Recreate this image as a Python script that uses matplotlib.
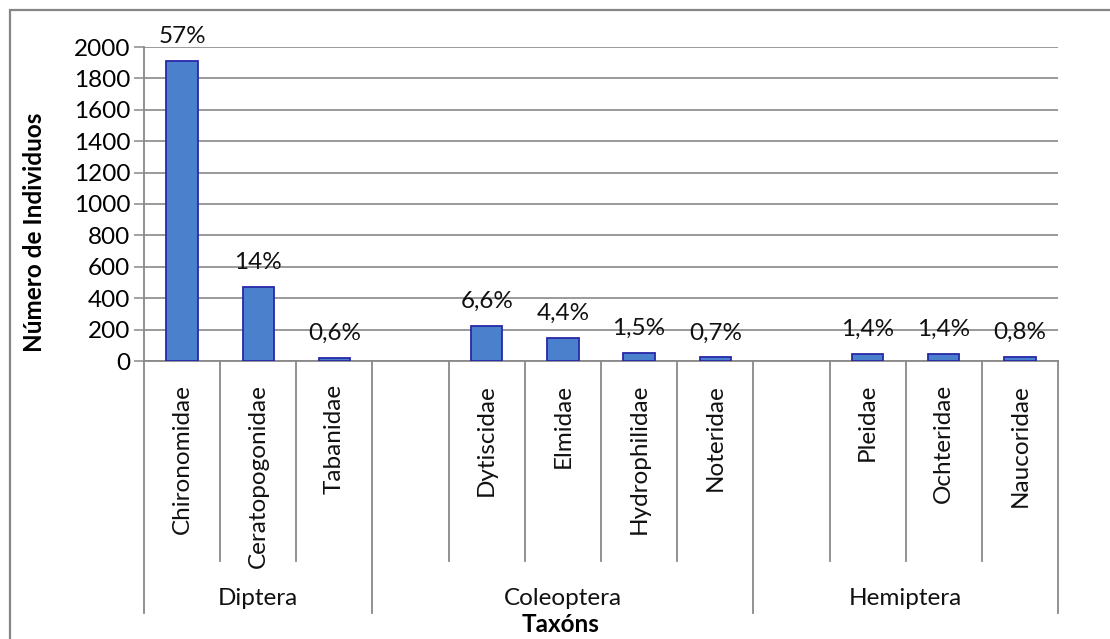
import matplotlib.pyplot as plt
from matplotlib.patches import Rectangle

# taxa per slot; empty strings are the gaps Excel leaves between orders
familias = ['Chironomidae', 'Ceratopogonidae', 'Tabanidae', '',
            'Dytiscidae', 'Elmidae', 'Hydrophilidae', 'Noteridae', '',
            'Pleidae', 'Ochteridae', 'Naucoridae']
individuos = [1910, 472, 21, 0, 222, 148, 50, 23, 0, 47, 47, 27]
porcentajes = ['57%', '14%', '0,6%', '', '6,6%', '4,4%', '1,5%', '0,7%', '',
               '1,4%', '1,4%', '0,8%']
ordenes = ['Diptera', 'Coleoptera', 'Hemiptera']
slots_por_orden = [3, 5, 4]

plt.rcParams['font.family'] = ['Lato', 'DejaVu Sans']
W, H = 1110, 639
fig = plt.figure(figsize=(W / 100, H / 100), dpi=100)
ax = fig.add_axes([144 / W, 1 - 361 / H, (1058 - 144) / W, (361 - 47) / H])

grid_c = '#898989'
fill_c = '#4a80cc'
edge_c = '#2828a8'
fs = 17.5

n = len(familias)
xs = [i for i in range(n) if familias[i]]
ax.bar(xs, [individuos[i] for i in xs], width=0.41, color=fill_c,
       edgecolor=edge_c, linewidth=1.3, zorder=3)
for i in xs:
    ax.annotate(porcentajes[i], (i, individuos[i]), xytext=(0, 10),
                textcoords='offset points', ha='center', va='bottom',
                fontsize=fs, color='#111111', zorder=4)

ax.set_xlim(-0.5, n - 0.5)
ax.set_ylim(0, 2000)
ax.set_yticks(range(0, 2001, 200))
ax.tick_params(axis='y', labelsize=fs, length=7, width=1.1, color=grid_c,
               direction='out', pad=3)
ax.set_xticks([])
ax.yaxis.grid(True, color=grid_c, linewidth=1.2, zorder=0)
for s in ['top', 'right']:
    ax.spines[s].set_visible(False)
for s in ['left', 'bottom']:
    ax.spines[s].set_color(grid_c)
    ax.spines[s].set_linewidth(1.3)

# two-level category axis
tr = ax.get_xaxis_transform()
y_cat = -(561 - 361) / 314
y_grp = -(613 - 361) / 314
for i, nombre in enumerate(familias):
    if nombre:
        ax.text(i, -(384 - 361) / 314, nombre, transform=tr, rotation=90,
                ha='center', va='top', fontsize=fs, color='#111111')

bordes = [0]
for k in slots_por_orden:
    bordes.append(bordes[-1] + k)
for b in range(n + 1):
    bottom = y_grp if b in bordes else y_cat
    ax.plot([b - 0.5, b - 0.5], [0, bottom], transform=tr, color=grid_c,
            linewidth=1.3, clip_on=False)
for k, orden in enumerate(ordenes):
    centro = (bordes[k] + bordes[k + 1] - 1) / 2
    ax.text(centro, -(598 - 361) / 314, orden, transform=tr, ha='center',
            va='center', fontsize=fs, color='#111111')

fig.text(561 / W, 1 - 625 / H, 'Taxóns', ha='center', va='center',
         fontsize=fs, fontweight='bold')
fig.text(35 / W, 1 - 232 / H, 'Número de Individuos', ha='center',
         va='center', rotation=90, fontsize=fs, fontweight='bold')

# chart border (right and bottom edges fall outside the picture)
fig.patches.append(Rectangle((10 / W, -0.1), 1.2, 1.1 - 10 / H,
                             transform=fig.transFigure, fill=False,
                             edgecolor='#868686', linewidth=1.6))

fig.savefig('out.png', dpi=100, facecolor='white')
